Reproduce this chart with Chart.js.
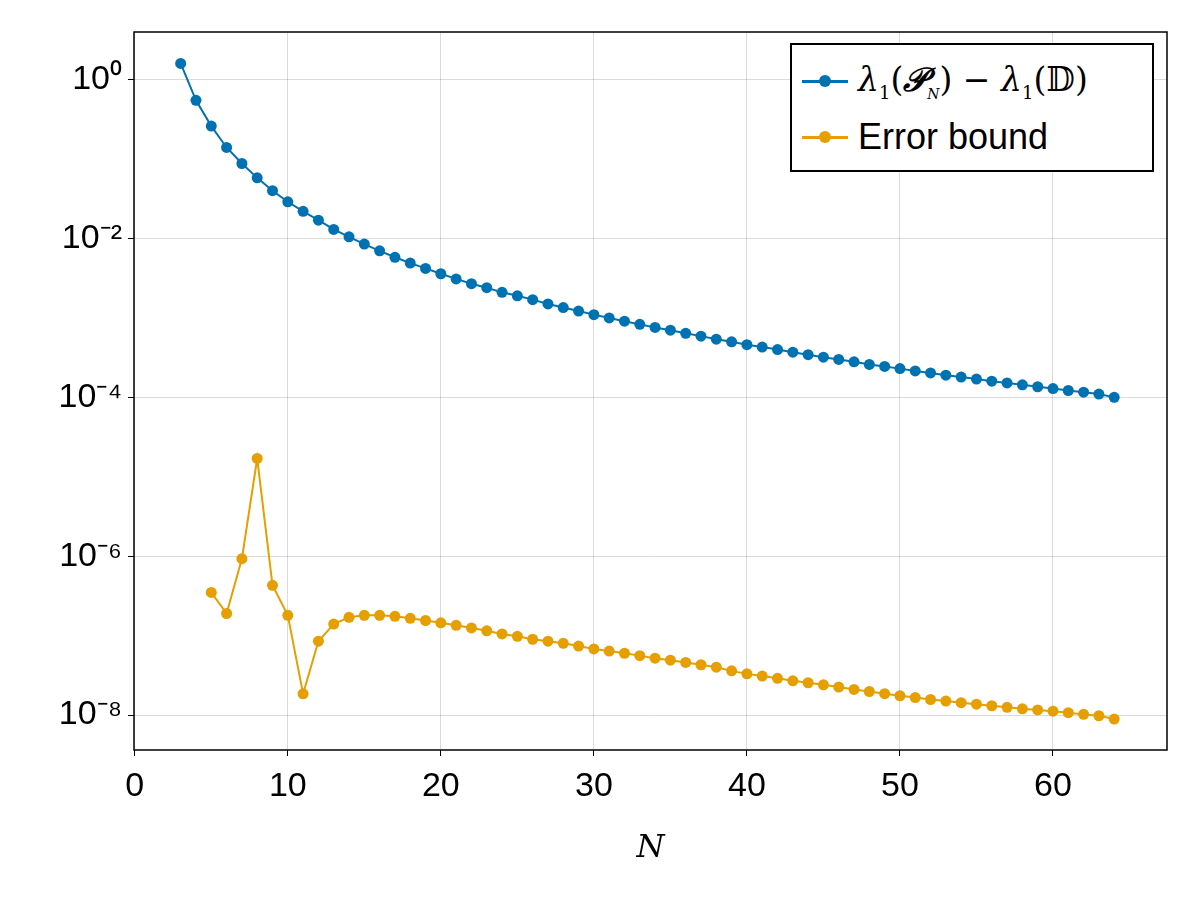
<!DOCTYPE html>
<html><head><meta charset="utf-8">
<script src="https://cdn.jsdelivr.net/npm/chart.js@4"></script>
<style>
html,body{margin:0;padding:0;background:#fff;}
#wrap{position:relative;width:1200px;height:900px;}
#legend{position:absolute;left:790px;top:43px;width:364px;height:129px;border:2px solid #000;background:#fff;box-sizing:border-box;font-family:"Liberation Sans",Arial,sans-serif;font-size:36px;}
.row{position:absolute;left:10px;height:40px;display:flex;align-items:center;}
.sw{position:relative;width:46px;height:40px;margin-right:10px;}
.sw .ln{position:absolute;left:0;right:0;top:19px;height:2.5px;}
.sw .dt{position:absolute;left:17px;top:14px;width:12px;height:12px;border-radius:50%;}
.m{font-family:"DejaVu Serif","Liberation Serif",serif;font-size:33px;}
</style></head><body>
<div id="wrap"><canvas id="c" width="1200" height="900"></canvas>
<div id="legend">
<div class="row" style="top:16px"><div class="sw"><div class="ln" style="background:#0072B2"></div><div class="dt" style="background:#0072B2"></div></div><span class="m"><i>λ</i><sub style="font-size:18px">1</sub>(<b><i>𝒫</i></b><sub style="font-size:14px"><i>N</i></sub>) − <i>λ</i><sub style="font-size:18px">1</sub>(𝔻)</span></div>
<div class="row" style="top:72px"><div class="sw"><div class="ln" style="background:#E69F00"></div><div class="dt" style="background:#E69F00"></div></div><span>Error bound</span></div>
</div></div>
<script>
const Nblue=[];for(let n=3;n<=64;n++)Nblue.push(n);
const Norange=[];for(let n=5;n<=64;n++)Norange.push(n);
const eigErr=[1.6,0.55,0.26,0.14,0.088,0.058,0.040,0.029,0.022,0.017,0.013,0.0105,0.0085,0.0070,0.0058,0.0049,0.0042,0.0036,0.0031,0.0027,0.0024,0.0021,0.0019,0.0017,0.0015,0.00135,0.00122,0.0011,0.001,0.00091,0.00083,0.00076,0.0007,0.00064,0.00059,0.00054,0.0005,0.00046,0.00043,0.0004,0.00037,0.000345,0.00032,0.0003,0.00028,0.00026,0.000245,0.00023,0.000215,0.000203,0.00019,0.00018,0.00017,0.00016,0.000152,0.000144,0.000136,0.000129,0.000122,0.000116,0.00011,0.0001];
const errBound=[3.5e-7,1.9e-7,9.3e-7,1.7e-5,4.3e-7,1.8e-7,1.85e-8,8.5e-8,1.4e-7,1.7e-7,1.8e-7,1.8e-7,1.75e-7,1.65e-7,1.55e-7,1.45e-7,1.35e-7,1.25e-7,1.15e-7,1.05e-7,9.8e-8,9e-8,8.5e-8,8e-8,7.4e-8,6.8e-8,6.4e-8,6e-8,5.6e-8,5.2e-8,4.9e-8,4.6e-8,4.3e-8,4e-8,3.6e-8,3.3e-8,3.1e-8,2.9e-8,2.7e-8,2.55e-8,2.4e-8,2.25e-8,2.1e-8,1.98e-8,1.86e-8,1.75e-8,1.66e-8,1.57e-8,1.5e-8,1.43e-8,1.37e-8,1.31e-8,1.25e-8,1.2e-8,1.16e-8,1.12e-8,1.07e-8,1.02e-8,0.98e-8,0.89e-8];
const yTicks=[1e-8,1e-6,1e-4,1e-2,1];
const yTickLabels=['10⁻⁸','10⁻⁶','10⁻⁴','10⁻²','10⁰'];
const xTicks=[0,10,20,30,40,50,60];
const blue='#0072B2',orange='#E69F00';
const frame={id:'frame',afterDraw(c){const a=c.chartArea,x=c.ctx;x.save();x.strokeStyle='#000';x.lineWidth=1.5;x.strokeRect(a.left,a.top,a.right-a.left,a.bottom-a.top);x.restore();}};
new Chart(document.getElementById('c'),{
type:'line',
data:{datasets:[
{data:Nblue.map((n,i)=>({x:n,y:eigErr[i]})),borderColor:blue,backgroundColor:blue,borderWidth:2,pointRadius:5.5,pointBorderWidth:0,tension:0},
{data:Norange.map((n,i)=>({x:n,y:errBound[i]})),borderColor:orange,backgroundColor:orange,borderWidth:2,pointRadius:5.5,pointBorderWidth:0,tension:0}]},
options:{responsive:false,animation:false,devicePixelRatio:1,
layout:{padding:{top:32,right:33,bottom:0,left:0}},
plugins:{legend:{display:false},tooltip:{enabled:false}},
scales:{
x:{type:'linear',min:-0.05,max:67.45,
afterBuildTicks(s){s.ticks=xTicks.map(v=>({value:v}));},
afterFit(s){s.height=150;},
ticks:{color:'#000',font:{family:'Liberation Sans',size:34},padding:10,maxRotation:0},
grid:{color:'rgba(0,0,0,0.14)',lineWidth:1,tickLength:6,tickColor:'#000',drawOnChartArea:true},
border:{display:false},
title:{display:true,text:'N',color:'#000',font:{family:'DejaVu Serif',size:32,style:'italic'},padding:{top:0,bottom:32}}},
y:{type:'logarithmic',min:Math.pow(10,-8.44),max:Math.pow(10,0.6),
afterBuildTicks(s){s.ticks=yTicks.map(v=>({value:v}));},
afterFit(s){s.width=134;},
ticks:{color:'#000',font:{family:'Liberation Sans',size:34},padding:6,callback:(v)=>{const i=yTicks.findIndex(t=>Math.abs(Math.log10(t)-Math.log10(v))<1e-6);return i>=0?yTickLabels[i]:'';}},
grid:{color:'rgba(0,0,0,0.14)',lineWidth:1,tickLength:6,tickColor:'#000'},
border:{display:false}}}},
plugins:[frame]});
</script></body></html>
